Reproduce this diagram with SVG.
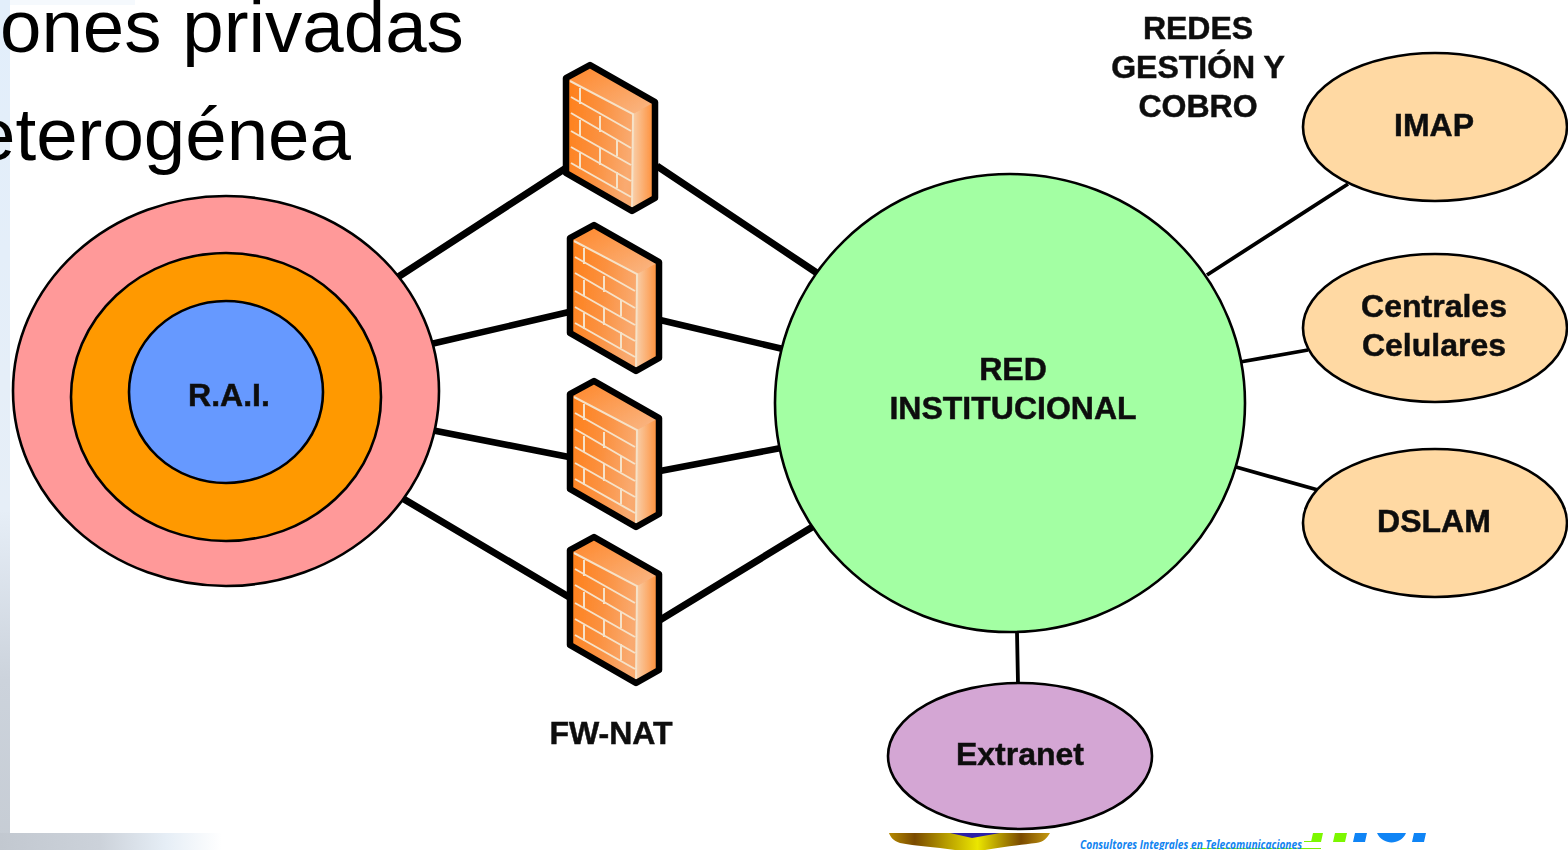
<svg xmlns="http://www.w3.org/2000/svg" width="1568" height="850" viewBox="0 0 1568 850">
<style>
.n{stroke:#000;stroke-width:2.600}
.c{stroke:#000;fill:none}
.t{font-family:"Liberation Sans",Arial,sans-serif;font-weight:bold;font-size:32px;fill:#111;stroke:#111;stroke-width:0.500;text-anchor:middle}
.h{font-family:"Liberation Sans",Arial,sans-serif;font-size:74.500px;fill:#000}
.b{stroke:#f6e2c8;stroke-width:2;fill:none}
</style>
<defs>
<linearGradient id="left" x1="0" y1="0" x2="0" y2="1">
<stop offset="0" stop-color="#e2eefb"/><stop offset="0.6" stop-color="#e6eef7"/><stop offset="0.8" stop-color="#ccd3dc"/><stop offset="1" stop-color="#c6ccd4"/>
</linearGradient>
<linearGradient id="bot" x1="0" y1="0" x2="1" y2="0">
<stop offset="0" stop-color="#c2c8d0"/><stop offset="0.45" stop-color="#ccd2da"/><stop offset="0.75" stop-color="#e6eef6"/><stop offset="1" stop-color="#fff"/>
</linearGradient>
<linearGradient id="front" x1="0" y1="0" x2="1" y2="0.2">
<stop offset="0" stop-color="#ff7d14"/><stop offset="0.45" stop-color="#fb9140"/><stop offset="0.8" stop-color="#f9aa70"/><stop offset="1" stop-color="#f9a868"/>
</linearGradient>
<linearGradient id="side" x1="0" y1="0" x2="1" y2="0">
<stop offset="0" stop-color="#f8d0ac"/><stop offset="1" stop-color="#ff8a30"/>
</linearGradient>
<linearGradient id="top" x1="0" y1="0" x2="1" y2="1">
<stop offset="0" stop-color="#ff8526"/><stop offset="1" stop-color="#f9b888"/>
</linearGradient>
<linearGradient id="gold" x1="0" y1="0" x2="1" y2="0">
<stop offset="0" stop-color="#b58a00"/><stop offset="0.16" stop-color="#7a4a00"/><stop offset="0.35" stop-color="#b59a00"/><stop offset="0.55" stop-color="#ebe600"/><stop offset="0.82" stop-color="#7a4a00"/><stop offset="1" stop-color="#c59a10"/>
</linearGradient>
<filter id="soft" x="-5%" y="-5%" width="110%" height="110%"><feGaussianBlur stdDeviation="0.6"/></filter>
<g id="fw">
<path d="M590 65 L566 78 L566 173 L632 211 L655 198 L655 102 Z" fill="url(#front)"/>
<path d="M590 65 L566 78 L633 114 L655 102 Z" fill="url(#top)"/>
<path d="M633 114 L655 102 L655 198 L632 211 Z" fill="url(#side)"/>
<path class="b" d="M570 81 L633 114 L632 208 M571 97 L631 131 M571 113 L631 148 M571 131 L631 165 M571 147 L631 181 M571 163 L631 197 M580 88 L580 104 M600 116 L600 132 M580 120 L580 136 M617 140 L617 156 M600 148 L600 165 M580 153 L580 169 M617 172 L617 188"/>
<path d="M590 65 L566 78 L566 173 L632 211 L655 198 L655 102 Z" fill="none" stroke="#000" stroke-width="6.500" stroke-linejoin="round"/>
</g>
</defs>
<rect width="1568" height="850" fill="#fff"/>
<rect id="bgLeft" x="0" y="0" width="10" height="850" fill="url(#left)"/>
<rect id="bgTop" x="10" y="0" width="125" height="5" fill="#f5f9fd"/>
<rect id="bgBottom" x="0" y="833" width="222" height="17" fill="url(#bot)"/>
<text class="h" x="0" y="52">ones privadas</text>
<text class="h" x="351" y="160" text-anchor="end">eterogénea</text>
<g filter="url(#soft)">
<g id="connectors" class="c">
<path stroke-width="7" d="M398 277 L566 168 M657 166 L817 273"/>
<path stroke-width="6.500" d="M431 344 L569 312 M660 320 L783 349 M431 430 L569 457 M660 471 L781 448"/>
<path stroke-width="7" d="M402 498 L569 597 M660 620 L814 526"/>
<path stroke-width="3.800" d="M1207 275 L1348 184 M1240 362 L1308 350 M1236 467 L1318 490 M1017 632 L1018 684"/>
</g>
<g id="rai">
<ellipse class="n" cx="226" cy="391" rx="213" ry="195" fill="#ff9999"/>
<ellipse class="n" cx="226" cy="397" rx="155" ry="144" fill="#ff9900"/>
<ellipse class="n" cx="226" cy="392" rx="97" ry="91" fill="#6699ff"/>
<text class="t" x="229" y="406">R.A.I.</text>
</g>
<g id="fw1"><use href="#fw"/></g>
<g id="fw2"><use href="#fw" x="4" y="160"/></g>
<g id="fw3"><use href="#fw" x="4" y="316"/></g>
<g id="fw4"><use href="#fw" x="4" y="472"/></g>
<text id="fwLabel" class="t" x="611" y="744">FW-NAT</text>
<g id="red">
<ellipse class="n" cx="1010" cy="403" rx="235" ry="229" fill="#a3ffa3"/>
<text class="t" x="1013" y="380">RED</text>
<text class="t" x="1013" y="419">INSTITUCIONAL</text>
</g>
<text id="redesLabel" class="t"><tspan x="1198" y="39">REDES</tspan><tspan x="1198" y="78">GESTIÓN Y</tspan><tspan x="1198" y="117">COBRO</tspan></text>
<g id="imap">
<ellipse class="n" cx="1435" cy="127" rx="132" ry="74" fill="#ffd9a3"/>
<text class="t" x="1434" y="136">IMAP</text>
</g>
<g id="centrales">
<ellipse class="n" cx="1435" cy="328" rx="132" ry="74" fill="#ffd9a3"/>
<text class="t" x="1434" y="317">Centrales</text>
<text class="t" x="1434" y="356">Celulares</text>
</g>
<g id="dslam">
<ellipse class="n" cx="1435" cy="523" rx="132" ry="74" fill="#ffd9a3"/>
<text class="t" x="1434" y="532">DSLAM</text>
</g>
<g id="extranet">
<ellipse class="n" cx="1020" cy="756" rx="132" ry="73" fill="#d4a6d4"/>
<text class="t" x="1020" y="765">Extranet</text>
</g>
</g>
<g id="logo">
<path d="M889 833 L1050 833 C1047 838 1044 842 1036 843 C1020 845 1000 847 985 850 L955 850 C935 847 915 846 900 843 C893 841 890 836 889 833 Z" fill="url(#gold)"/>
<path d="M950 833 L1000 833 L972 838 Z" fill="#2a1fa8"/>
<path d="M1190 848.500 L1321 848.500 M1304 841.500 L1313 841.500" stroke="#7cf200" stroke-width="1.200"/>
<text x="1080" y="849" font-family="'Open Sans','Noto Sans',sans-serif" font-size="12.500" font-style="italic" font-weight="bold" fill="#1284f0" textLength="222" lengthAdjust="spacingAndGlyphs">Consultores Integrales en Telecomunicaciones</text>
<path d="M1313 833 L1323 833 L1321 842 L1311 842 Z M1335 833 L1347 833 L1345 842 L1333 842 Z" fill="#7cf700"/>
<path d="M1355 833 L1367 833 L1365 842 L1353 842 Z M1377 833 L1406 833 C1401 845 1383 846 1377 833 Z M1414 833 L1426 833 L1424 842 L1412 842 Z" fill="#0f84f5"/>
</g>
</svg>
